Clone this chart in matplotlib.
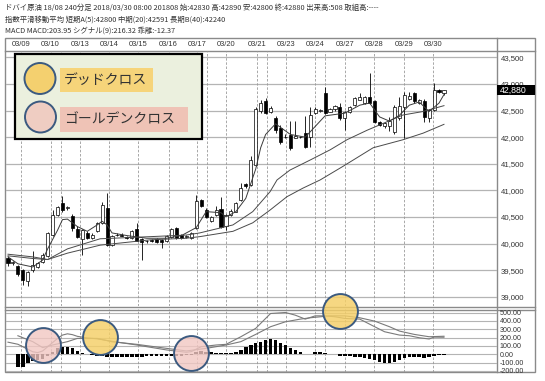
import numpy as np
import matplotlib.pyplot as plt
from matplotlib.patches import Rectangle, Circle
from matplotlib.transforms import blended_transform_factory

plt.rcParams['font.family'] = ['Noto Sans CJK JP', 'DejaVu Sans']

# ---- candles (240 min bars) ----
c_open = [39720, 39640, 39580, 39500, 39290, 39500, 39560, 39660, 39760, 40170,
          40540, 40770, 40660, 40510, 40270, 40080, 40200, 40110, 40230, 40380,
          40660, 39980, 40160, 40170, 40120, 40100, 40280, 40080, 40040, 40060,
          40080, 40070, 40040, 40130, 40290, 40160, 40120, 40100, 40290, 40810,
          40640, 40430, 40540, 40650, 40330, 40540, 40600, 40820, 41110, 41100,
          41480, 42500, 42670, 42480, 42350, 42170, 42000, 42040, 41990, 42000,
          42070, 42010, 42460, 42500, 42820, 42480, 42520, 42570, 42350, 42480,
          42600, 42700, 42650, 42750, 42670, 42290, 42200, 42200, 42100, 42360,
          42570, 42720, 42820, 42650, 42670, 42350, 42510, 42890, 42830]
c_high = [39760, 39680, 39600, 39520, 39490, 39860, 39660, 39820, 40220, 40630,
          40700, 40890, 40710, 40560, 40330, 40280, 40230, 40190, 40410, 40780,
          40950, 40160, 40190, 40190, 40140, 40260, 40390, 40100, 40070, 40080,
          40100, 40090, 40160, 40300, 40310, 40180, 40160, 40210, 40910, 40840,
          40660, 40520, 40700, 40870, 40560, 40650, 40790, 41130, 41140, 41650,
          42560, 42700, 42730, 42580, 42400, 42230, 42050, 42300, 42300, 42030,
          42400, 42570, 42570, 42530, 42950, 42540, 42610, 42650, 42500, 42580,
          42750, 42830, 42780, 43210, 42700, 42310, 42280, 42380, 42600, 42750,
          42850, 42850, 42850, 42720, 42720, 42530, 43010, 42900, 42890]
c_low = [39580, 39600, 39400, 39230, 39200, 39470, 39540, 39640, 39740, 40150,
         40520, 40600, 40640, 40230, 40100, 39780, 40090, 40090, 40220, 40360,
         39950, 39960, 40140, 40140, 40080, 40090, 40040, 39690, 40020, 40030,
         40020, 39910, 40030, 40110, 40090, 40080, 40100, 40080, 40270, 40680,
         40480, 40400, 40520, 40290, 40260, 40520, 40590, 40800, 41050, 41080,
         41450, 42450, 42430, 42460, 42070, 41870, 41980, 41750, 41980, 41990,
         41800, 41820, 42440, 42480, 42440, 42470, 42500, 42330, 42140, 42460,
         42580, 42690, 42630, 42620, 42270, 42200, 42180, 42110, 42060, 42330,
         41980, 42700, 42650, 42630, 42280, 42280, 42490, 42830, 42800]
c_close = [39630, 39650, 39420, 39310, 39470, 39600, 39640, 39790, 40190, 40530,
           40680, 40630, 40690, 40290, 40130, 40250, 40110, 40170, 40390, 40720,
           39970, 40140, 40170, 40150, 40100, 40240, 40050, 40030, 40050, 40050,
           40030, 40030, 40150, 40280, 40110, 40100, 40140, 40190, 40800, 40700,
           40500, 40500, 40630, 40320, 40540, 40620, 40770, 41040, 41080, 41570,
           42520, 42650, 42450, 42550, 42130, 41910, 42010, 41790, 42030, 42010,
           41820, 42420, 42520, 42510, 42450, 42520, 42590, 42350, 42480, 42560,
           42730, 42760, 42750, 42640, 42290, 42220, 42260, 42310, 42570, 42580,
           42790, 42780, 42670, 42700, 42370, 42510, 42890, 42850, 42880]

# ---- moving averages, read at sample bars ----
ema5_bar = [0, 2, 5, 7, 8, 10, 11, 12, 14, 16, 18, 19, 20, 21, 24, 28, 32, 35, 38,
            40, 43, 44, 46, 48, 50, 51, 52, 54, 57, 60, 62, 64, 68, 71, 73, 75, 77,
            79, 81, 83, 85, 87, 88]
ema5_val = [39750, 39620, 39560, 39690, 39900, 40250, 40450, 40460, 40320, 40230,
            40350, 40420, 40350, 40200, 40150, 40100, 40100, 40150, 40300, 40600,
            40580, 40500, 40600, 40850, 41400, 41800, 42050, 42250, 42050, 42000,
            42200, 42400, 42450, 42600, 42640, 42380, 42300, 42410, 42600, 42660,
            42480, 42640, 42800]
ema20_bar = [0, 5, 8, 12, 18.6, 28.7, 36, 38.7, 45.4, 49.4, 52.9, 54.3, 56.9, 61,
             65, 68.4, 72.5, 79.7, 83.7, 88]
ema20_val = [39800, 39750, 39700, 39900, 40090, 40130, 40160, 40200, 40350, 40600,
             40975, 41195, 41380, 41570, 41760, 41950, 42130, 42415, 42480, 42591]
ema40_bar = [0, 5, 8, 12, 18.6, 28.7, 36, 38.7, 45.4, 49.4, 52.9, 56.3, 59.5, 63,
             67.6, 73.7, 79.7, 83.8, 88]
ema40_val = [39770, 39720, 39700, 39820, 39970, 40070, 40100, 40130, 40230, 40390,
             40630, 40880, 41040, 41195, 41450, 41800, 41950, 42075, 42240]

# ---- MACD ----
macd_bar = [0, 2, 4, 5, 6, 7, 8, 9, 10, 11, 12, 13, 14, 16, 18, 21, 26, 32, 36, 37,
            39, 42, 44, 47, 50, 52, 53, 56, 58, 60, 62, 64, 66, 68, 71, 74, 76, 79,
            81, 83, 85, 86, 88]
macd_val = [145, 120, 60, 30, 20, 40, 90, 140, 190, 230, 245, 235, 215, 195, 185,
            155, 111, 52, 24, 32, 91, 111, 119, 210, 310, 429, 488, 500, 468, 421,
            460, 460, 449, 429, 421, 330, 270, 230, 222, 198, 183, 206, 204]
sig_bar = [2, 5, 7, 9, 12, 14, 18, 21, 26, 32, 36, 40, 44, 47, 50, 53, 56, 59, 61,
           65, 68, 71, 74, 77, 79, 82, 85, 88]
sig_val = [222, 151, 80, 111, 151, 190, 190, 150, 119, 71, 40, 71, 111, 151, 238,
           330, 389, 421, 437, 460, 460, 437, 397, 330, 278, 238, 210, 216]
hist = [0, 0, -155, -148, -108, -76, -68, -60, -20, 30,
        70, 92, 92, 72, 44, 20, 5, -5, -15, -20,
        -28, -28, -30, -32, -32, -30, -30, -28, -26, -24,
        -24, -22, -20, -18, -16, -16, -14, -10, 30, 40,
        32, 24, 16, 12, 12, 14, 30, 52, 91, 111,
        130, 151, 170, 183, 171, 131, 111, 71, 52, 24,
        8, 0, 24, 24, 16, 8, 4, -16, -20, -24,
        -28, -32, -40, -55, -67, -87, -99, -99, -87, -67,
        -48, -32, -28, -28, -48, -32, -16, -12, -12]

# crosses marked on the MACD panel (bar, value)
dead_x, dead_y = [18.5, 67.1], [201, 520]
gold_x, gold_y = [7.1, 37], [111, 12]

# ---- axis labels ----
day_labels = ['03/09', '03/10', '03/13', '03/14', '03/15', '03/16', '03/17', '03/20',
              '03/21', '03/23', '03/24', '03/27', '03/28', '03/29', '03/30']
day_pos = [2.56, 8.6, 14.5, 20.4, 26.3, 32.4, 38.2, 44.1, 50.2, 56.1, 61.96, 68.0,
           73.9, 79.9, 85.8]
session_pos = [10.6, 40.2, 52.2, 64.0]
price_ticks = [39000, 39500, 40000, 40500, 41000, 41500, 42000, 42500, 43000, 43500]
macd_ticks = [500, 400, 300, 200, 100, 0, -100, -200]
last_price = 42880

header = ["ドバイ原油 18/08 240分足 2018/03/30 08:00 201808 始:42830 高:42890 安:42800 終:42880 出来高:508 取組高:----",
          "指数平滑移動平均 短期A(5):42800 中期(20):42591 長期B(40):42240",
          "MACD MACD:203.95 シグナル(9):216.32 乖離:-12.37"]

W, H = 545, 381
fig = plt.figure(figsize=(W / 100, H / 100), dpi=100)


def px_axes(x0, y0, x1, y1, **kw):
    return fig.add_axes([x0 / W, 1 - y1 / H, (x1 - x0) / W, (y1 - y0) / H], **kw)


frame_c = '#8a8a8a'
grid_c = '#b4b4b4'
num_font = 'Liberation Sans'

# background frame
bg = px_axes(0, 0, W, H, zorder=-1)
bg.set_xlim(0, W)
bg.set_ylim(H, 0)
bg.axis('off')
bg.add_patch(Rectangle((5, 38), 530, 334, fill=False, ec=frame_c, lw=1.0))
bg.plot([497, 497], [38, 372], color=frame_c, lw=1.0)
bg.plot([5, 535], [51, 51], color=frame_c, lw=1.0)
bg.plot([5, 535], [306.5, 306.5], color=frame_c, lw=1.0)
bg.plot([5, 535], [309.5, 309.5], color=frame_c, lw=1.0)

for i, line in enumerate(header):
    fig.text(5 / W, 1 - (8 + 11.5 * i) / H, line, fontsize=5.3, color='#333333',
             va='center', ha='left')

# ---- price panel ----
ax = px_axes(6, 51, 497, 306, zorder=2)
ax.set_facecolor('none')
ax.set_xlim(-0.4, 98.7)
ax.set_ylim(38827, 43618)
for s in ax.spines.values():
    s.set_visible(False)

for y in price_ticks:
    ax.axhline(y, color=grid_c, lw=0.9, zorder=1)
for x in day_pos + session_pos:
    ax.axvline(x, color='#9a9a9a', lw=0.6, ls=(0, (3, 2)), zorder=1)

o = np.array(c_open)
h = np.array(c_high)
lo = np.array(c_low)
c = np.array(c_close)
bars = np.arange(len(o))
up = c >= o
ax.vlines(bars, lo, h, color='black', lw=0.6, zorder=3)
ax.bar(bars, np.maximum(np.abs(c - o), 10), bottom=np.minimum(o, c), width=0.62,
       color=np.where(up, 'white', 'black'), edgecolor='black', lw=0.5, zorder=4)

ax.plot(ema20_bar, ema20_val, color='#4a4a4a', lw=0.7, zorder=5)
ax.plot(ema40_bar, ema40_val, color='#4a4a4a', lw=0.7, zorder=5)
ax.plot(ema5_bar, ema5_val, color='#3a3a3a', lw=0.7, zorder=5)

ax.set_xticks([])
ax.yaxis.tick_right()
ax.set_yticks(price_ticks)
ax.set_yticklabels([f'{v:,}' for v in price_ticks], fontsize=5.6, color='#333333',
                   family=num_font)
ax.tick_params(axis='y', length=0, pad=3)

tr = blended_transform_factory(ax.transAxes, ax.transData)
ax.add_patch(Rectangle((1.0, last_price - 90), 38 / 491, 180, transform=tr,
                       fc='black', ec='none', clip_on=False, zorder=6))
ax.text(1.0 + 3 / 491, last_price, f'{last_price:,}', transform=tr, color='white',
        fontsize=6.3, family=num_font, va='center', ha='left', zorder=7)

# ---- date strip ----
axd = px_axes(6, 38, 497, 51, sharex=ax)
axd.set_facecolor('none')
axd.axis('off')
for x, lab in zip(day_pos, day_labels):
    axd.text(x, 0.5, lab, fontsize=5.4, color='#333333', family=num_font,
             ha='center', va='center', transform=blended_transform_factory(axd.transData, axd.transAxes))

# ---- MACD panel ----
axm = px_axes(6, 309, 497, 372, sharex=ax, zorder=5)
axm.set_facecolor('none')
axm.set_ylim(-212, 542)
for s in axm.spines.values():
    s.set_visible(False)
for y in macd_ticks:
    axm.axhline(y, color=grid_c, lw=0.8, zorder=1)
for x in day_pos + session_pos:
    axm.axvline(x, color='#9a9a9a', lw=0.6, ls=(0, (3, 2)), zorder=1)

axm.bar(bars, hist, width=0.72, color='black', zorder=3)
axm.plot(macd_bar, macd_val, color='#7a7a7a', lw=0.8, zorder=4)
axm.plot(sig_bar, sig_val, color='#7a7a7a', lw=0.8, zorder=4)

axm.scatter(dead_x, dead_y, s=630, facecolor=(0.96, 0.81, 0.40, 0.82),
            edgecolor='#3b5a80', lw=1.4, clip_on=False, zorder=8)
axm.scatter(gold_x, gold_y, s=630, facecolor=(0.95, 0.78, 0.76, 0.8),
            edgecolor='#3b5a80', lw=1.4, clip_on=False, zorder=8)

axm.yaxis.tick_right()
axm.set_yticks(macd_ticks)
axm.set_yticklabels([f'{v:.2f}' for v in macd_ticks], fontsize=5.1, color='#333333',
                    family=num_font)
axm.tick_params(axis='y', length=0, pad=2)
axm.tick_params(axis='x', length=0, labelbottom=False)

# ---- legend box ----
lg = px_axes(0, 0, W, H, zorder=10)
lg.set_xlim(0, W)
lg.set_ylim(H, 0)
lg.axis('off')
lg.add_patch(Rectangle((15, 54), 187, 85, fc='#ebf0de', ec='black', lw=1.6))
lg.add_patch(Rectangle((60, 68), 93, 24, fc='#f6d47a', ec='none'))
lg.add_patch(Rectangle((60, 107), 128, 25, fc='#efc3b6', ec='none'))
lg.add_patch(Circle((40, 78.5), 15.5, fc='#f4d06f', ec='#3b5a80', lw=1.4))
lg.add_patch(Circle((40.5, 117), 15.5, fc='#efcdc2', ec='#3b5a80', lw=1.4))
lg.text(64, 80, 'デッドクロス', fontsize=10, color='#333333', va='center', ha='left')
lg.text(64, 119, 'ゴールデンクロス', fontsize=10, color='#333333', va='center', ha='left')

fig.savefig('out.png', dpi=100)
